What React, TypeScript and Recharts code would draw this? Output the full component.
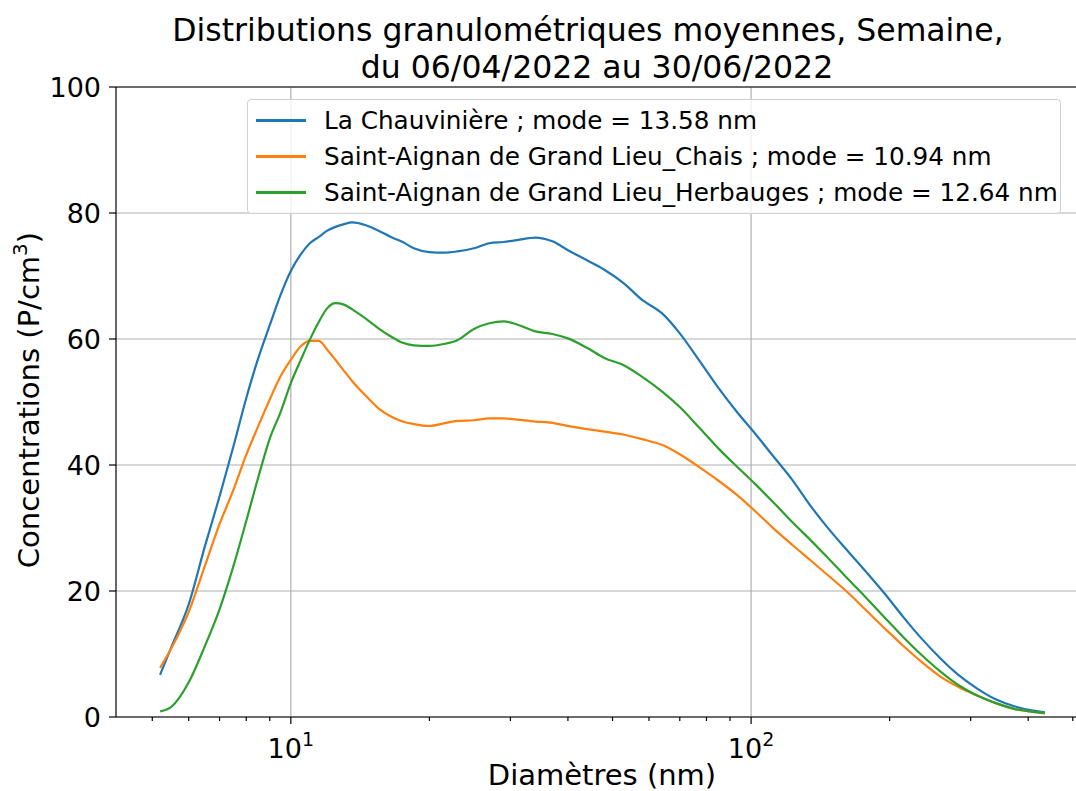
import React from "react";
import {
  LineChart,
  Line,
  XAxis,
  YAxis,
  CartesianGrid,
  ReferenceLine,
} from "recharts";

// diamètres (nm)
const diameters = [
  5.2, 5.5, 6.0, 6.5, 7.0, 7.5, 8.0, 8.5, 9.0, 9.5, 10, 10.5, 11, 11.5, 12, 12.5, 13, 13.6,
  14.5, 15.5, 16.5, 17.5, 18.5, 20, 21.5, 23, 25, 27, 29, 31, 34, 37, 40, 44, 48, 53, 58,
  64, 70, 77, 85, 93, 102, 112, 123, 135, 148, 162, 178, 195, 214, 235, 258, 283, 310,
  340, 373, 410, 435,
];

const chauviniere = [
  6.7, 11.1, 17.9, 27.0, 35.0, 42.9, 50.6, 57.0, 62.2, 67.0, 70.8, 73.4, 75.2, 76.2, 77.2,
  77.8, 78.2, 78.5, 78.1, 77.2, 76.2, 75.4, 74.4, 73.8, 73.7, 73.9, 74.4, 75.2, 75.4, 75.7,
  76.1, 75.5, 74.1, 72.5, 71.0, 68.8, 66.2, 64.1, 60.9, 56.7, 52.2, 48.5, 45.0, 41.3, 37.6,
  33.4, 29.7, 26.4, 23.0, 19.6, 15.9, 12.4, 9.3, 6.6, 4.5, 2.8, 1.7, 1.0, 0.75,
];

const chais = [
  7.8, 10.9, 16.7, 23.9, 30.6, 36.0, 41.6, 46.2, 50.4, 54.1, 56.7, 58.8, 59.7, 59.7, 58.3,
  56.7, 55.1, 53.3, 51.1, 49.0, 47.7, 46.9, 46.5, 46.2, 46.6, 47.0, 47.1, 47.4, 47.4, 47.2,
  46.9, 46.7, 46.2, 45.7, 45.3, 44.8, 44.1, 43.2, 41.7, 39.7, 37.5, 35.3, 32.7, 29.9, 27.3,
  24.8, 22.3, 19.8, 16.9, 14.1, 11.3, 8.7, 6.4, 4.7, 3.4, 2.2, 1.3, 0.8, 0.6,
];

const herbauges = [
  0.9, 1.6, 5.5, 11.2, 17.1, 23.9, 31.1, 38.1, 44.2, 48.4, 53.0, 56.6, 59.9, 62.7, 64.9,
  65.7, 65.5, 64.7, 63.3, 61.7, 60.4, 59.4, 59.0, 58.9, 59.2, 59.8, 61.6, 62.5, 62.8, 62.3,
  61.2, 60.8, 60.1, 58.6, 57.0, 55.8, 54.0, 51.7, 49.2, 46.0, 42.6, 39.8, 37.0, 34.0, 30.9,
  28.0, 25.0, 22.0, 18.9, 15.8, 12.7, 9.8, 7.2, 5.0, 3.4, 2.2, 1.3, 0.8, 0.6,
];

const series = [
  { key: "chauviniere", name: "La Chauvinière ; mode = 13.58 nm", color: "#1f77b4", values: chauviniere },
  { key: "chais", name: "Saint-Aignan de Grand Lieu_Chais ; mode = 10.94 nm", color: "#ff7f0e", values: chais },
  { key: "herbauges", name: "Saint-Aignan de Grand Lieu_Herbauges ; mode = 12.64 nm", color: "#2ca02c", values: herbauges },
];

const xTicks = [5, 6, 7, 8, 9, 10, 20, 30, 40, 50, 60, 70, 80, 90, 100, 200, 300, 400, 500];
const majorX = [10, 100];
const yTicks = [0, 20, 40, 60, 80, 100];

const data = diameters.map((d, i) => {
  const row: any = { d };
  series.forEach((s) => (row[s.key] = s.values[i]));
  return row;
});

const FONT = "DejaVu Sans, sans-serif";

const XTick = (props: any) => {
  const { x, y, payload } = props;
  const v = payload.value;
  const major = majorX.includes(v);
  return (
    <g>
      <line x1={x} x2={x} y1={y} y2={y + (major ? 7 : 4)} stroke="#000" strokeWidth={1.2} />
      {major && (
        <text x={x} y={y + 41} textAnchor="middle" fontFamily={FONT} fontSize={27} fill="#000">
          10<tspan dy={-12} fontSize={19}>{Math.round(Math.log10(v))}</tspan>
        </text>
      )}
    </g>
  );
};

const YTick = (props: any) => {
  const { x, y, payload } = props;
  return (
    <g>
      <line x1={x} x2={x - 7} y1={y} y2={y} stroke="#000" strokeWidth={1.2} />
      <text x={x - 15} y={y + 10} textAnchor="end" fontFamily={FONT} fontSize={27} fill="#000">
        {payload.value}
      </text>
    </g>
  );
};

const LegendBox = () => (
  <div
    style={{
      position: "absolute",
      left: 247,
      top: 99,
      width: 814,
      height: 115,
      border: "1px solid #d0d0d0",
      borderRadius: 4,
      background: "rgba(255,255,255,0.8)",
      fontFamily: FONT,
      fontSize: 24.7,
      boxSizing: "border-box",
    }}
  >
    {series.map((s, i) => (
      <div
        key={s.key}
        style={{ position: "absolute", left: 8, top: 20 + i * 36 - 15, height: 30, display: "flex", alignItems: "center" }}
      >
        <div style={{ width: 50, height: 0, borderTop: `3px solid ${s.color}`, marginRight: 18 }} />
        <span style={{ whiteSpace: "nowrap", color: "#000" }}>{s.name}</span>
      </div>
    ))}
  </div>
);

export default function App() {
  return (
    <div style={{ position: "absolute", left: 0, top: 0, width: 1076, height: 791, overflow: "hidden", background: "#fff" }}>
      <LineChart
        width={1100}
        height={791}
        data={data}
        margin={{ top: 87, right: 10, bottom: 44, left: 56 }}
      >
        <CartesianGrid vertical={false} stroke="#b0b0b0" strokeWidth={1.2} />
        <ReferenceLine x={10} stroke="#b0b0b0" strokeWidth={1.2} />
        <ReferenceLine x={100} stroke="#b0b0b0" strokeWidth={1.2} />
        <ReferenceLine y={100} stroke="#000" strokeWidth={1.2} />
        <XAxis
          dataKey="d"
          type="number"
          scale="log"
          domain={[4.17, 545]}
          allowDataOverflow
          ticks={xTicks}
          interval={0}
          tick={<XTick />}
          tickSize={0}
          tickMargin={0}
          tickLine={false}
          axisLine={{ stroke: "#000", strokeWidth: 1.2 }}
          height={30}
        />
        <YAxis
          type="number"
          domain={[0, 100]}
          ticks={yTicks}
          interval={0}
          tick={<YTick />}
          tickSize={0}
          tickMargin={0}
          tickLine={false}
          axisLine={{ stroke: "#000", strokeWidth: 1.2 }}
          width={60}
        />
        {series.map((s) => (
          <Line
            key={s.key}
            dataKey={s.key}
            name={s.name}
            type="monotone"
            stroke={s.color}
            strokeWidth={2.2}
            dot={false}
            isAnimationActive={false}
          />
        ))}
      </LineChart>
      <LegendBox />
      <svg
        width={1076}
        height={791}
        style={{ position: "absolute", left: 0, top: 0, pointerEvents: "none" }}
      >
        <text x={588} y={41} textAnchor="middle" fontFamily={FONT} fontSize={31.5} fill="#000">
          Distributions granulométriques moyennes, Semaine,
        </text>
        <text x={597} y={78} textAnchor="middle" fontFamily={FONT} fontSize={31.5} fill="#000">
          du 06/04/2022 au 30/06/2022
        </text>
        <text x={602} y={785} textAnchor="middle" fontFamily={FONT} fontSize={29} fill="#000">
          Diamètres (nm)
        </text>
        <text
          transform="translate(39,400) rotate(-90)"
          textAnchor="middle"
          fontFamily={FONT}
          fontSize={29}
          fill="#000"
        >
          Concentrations (P/cm<tspan dy={-12} fontSize={20}>3</tspan><tspan dy={12}>)</tspan>
        </text>
      </svg>
    </div>
  );
}
